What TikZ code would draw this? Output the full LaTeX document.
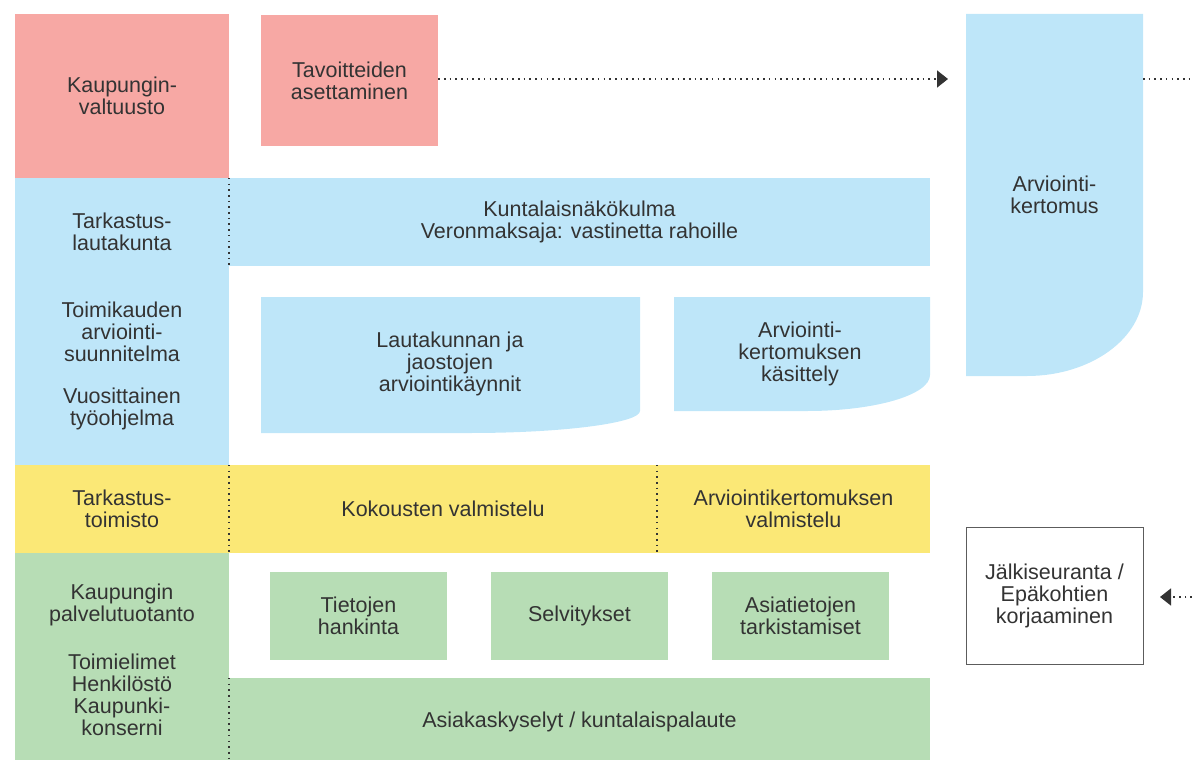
\documentclass[tikz,border=0pt]{standalone}
\usepackage{fontspec}
\setmainfont{Liberation Sans}
\usetikzlibrary{arrows.meta}
\definecolor{valtred}{RGB}{247,168,164}
\definecolor{lkblue}{RGB}{190,230,249}
\definecolor{tmyellow}{RGB}{251,232,118}
\definecolor{kpgreen}{RGB}{183,221,181}
\definecolor{txtgray}{RGB}{51,51,51}
\tikzset{
  lbl/.style={align=center, inner sep=0pt, text=txtgray, font=\fontsize{21.5}{22}\selectfont},
  blk/.style={lbl, rectangle, minimum width=#1},
  dotline/.style={line width=1.6pt, txtgray, dash pattern=on 1.6pt off 4.1pt},
  tip/.style={-{Triangle[length=11pt,width=17pt]}}
}
\begin{document}
\begin{tikzpicture}[x=1pt,y=-1pt]
\useasboundingbox (0,0) rectangle (1192,760);
% left column
\fill[lkblue] (15,178) rectangle (229,465);
\fill[kpgreen] (15,553) rectangle (229,760);
\node[blk=214pt, fill=valtred, minimum height=164pt] (valt) at (122,96) {Kaupungin-\\valtuusto};
\node[lbl] (tlk) at (122,232) {Tarkastus-\\lautakunta};
\node[lbl] (toim) at (122,332) {Toimikauden\\arviointi-\\suunnitelma};
\node[lbl] (vuo) at (122,409) {Vuosittainen\\työohjelma};
\node[blk=214pt, fill=tmyellow, minimum height=88pt] (ttm) at (122,509) {Tarkastus-\\toimisto};
\node[lbl] (kpt) at (122,605) {Kaupungin\\palvelutuotanto};
\node[lbl] (toe) at (122,695) {Toimielimet\\Henkilöstö\\Kaupunki-\\konserni};
% council row
\node[blk=177pt, fill=valtred, minimum height=131pt] (tav) at (349.5,80.5) {Tavoitteiden\\asettaminen};
% committee rows
\node[blk=701pt, fill=lkblue, minimum height=88pt] (kun) at (579.5,222) {Kuntalaisnäkökulma\\Veronmaksaja: vastinetta rahoille};
\fill[lkblue] (261,297) -- (640,297) -- (640,411)
  .. controls (640,423) and (563,433) .. (470,433) -- (261,433) -- cycle;
\node[lbl] (kay) at (450,364) {Lautakunnan ja\\jaostojen\\arviointikäynnit};
\fill[lkblue] (674,297) -- (930,297) -- (930,375)
  .. controls (930,395) and (875,411) .. (807,411) -- (674,411) -- cycle;
\node[lbl] (kas) at (800,354) {Arviointi-\\kertomuksen\\käsittely};
% office row
\node[blk=428pt, fill=tmyellow, minimum height=88pt] (kok) at (443,509) {Kokousten valmistelu};
\node[blk=273pt, fill=tmyellow, minimum height=88pt] (avl) at (793.5,509) {Arviointikertomuksen\\valmistelu};
% service rows
\node[blk=177pt, fill=kpgreen, minimum height=88pt] (tie) at (358.5,616) {Tietojen\\hankinta};
\node[blk=177pt, fill=kpgreen, minimum height=88pt] (sel) at (579.5,616) {Selvitykset};
\node[blk=177pt, fill=kpgreen, minimum height=88pt] (asi) at (800.5,616) {Asiatietojen\\tarkistamiset};
\node[blk=701pt, fill=kpgreen, minimum height=88pt] (aks) at (579.5,722) {Asiakaskyselyt / kuntalaispalaute};
% right column
\fill[lkblue] (966,14) -- (1143,14) -- (1143,292)
  .. controls (1143,338) and (1091,376) .. (1027,376) -- (966,376) -- cycle;
\node[lbl] (kert) at (1054.5,195) {Arviointi-\\kertomus};
\coordinate (kertw) at (948,79);
\coordinate (kerte) at (1143,79);
\coordinate (oute) at (1192,79);
\node[blk=177pt, draw=txtgray!80, line width=1pt, minimum height=137pt] (jal) at (1054.5,595.5) {Jälkiseuranta /\\Epäkohtien\\korjaaminen};
\coordinate (jale) at (1160,597);
\coordinate (ine) at (1192,597);
% dotted separators
\draw[dotline] (kun.north west) -- (kun.south west);
\draw[dotline] (kok.north west) -- (kok.south west);
\draw[dotline] (avl.north west) -- (avl.south west);
\draw[dotline] (aks.north west) -- (aks.south west);
% arrows
\draw[dotline, tip] (tav.east |- kertw) -- (kertw);
\draw[dotline] (kerte) -- (oute);
\draw[dotline, tip] (ine) -- (jale);
\end{tikzpicture}
\end{document}
